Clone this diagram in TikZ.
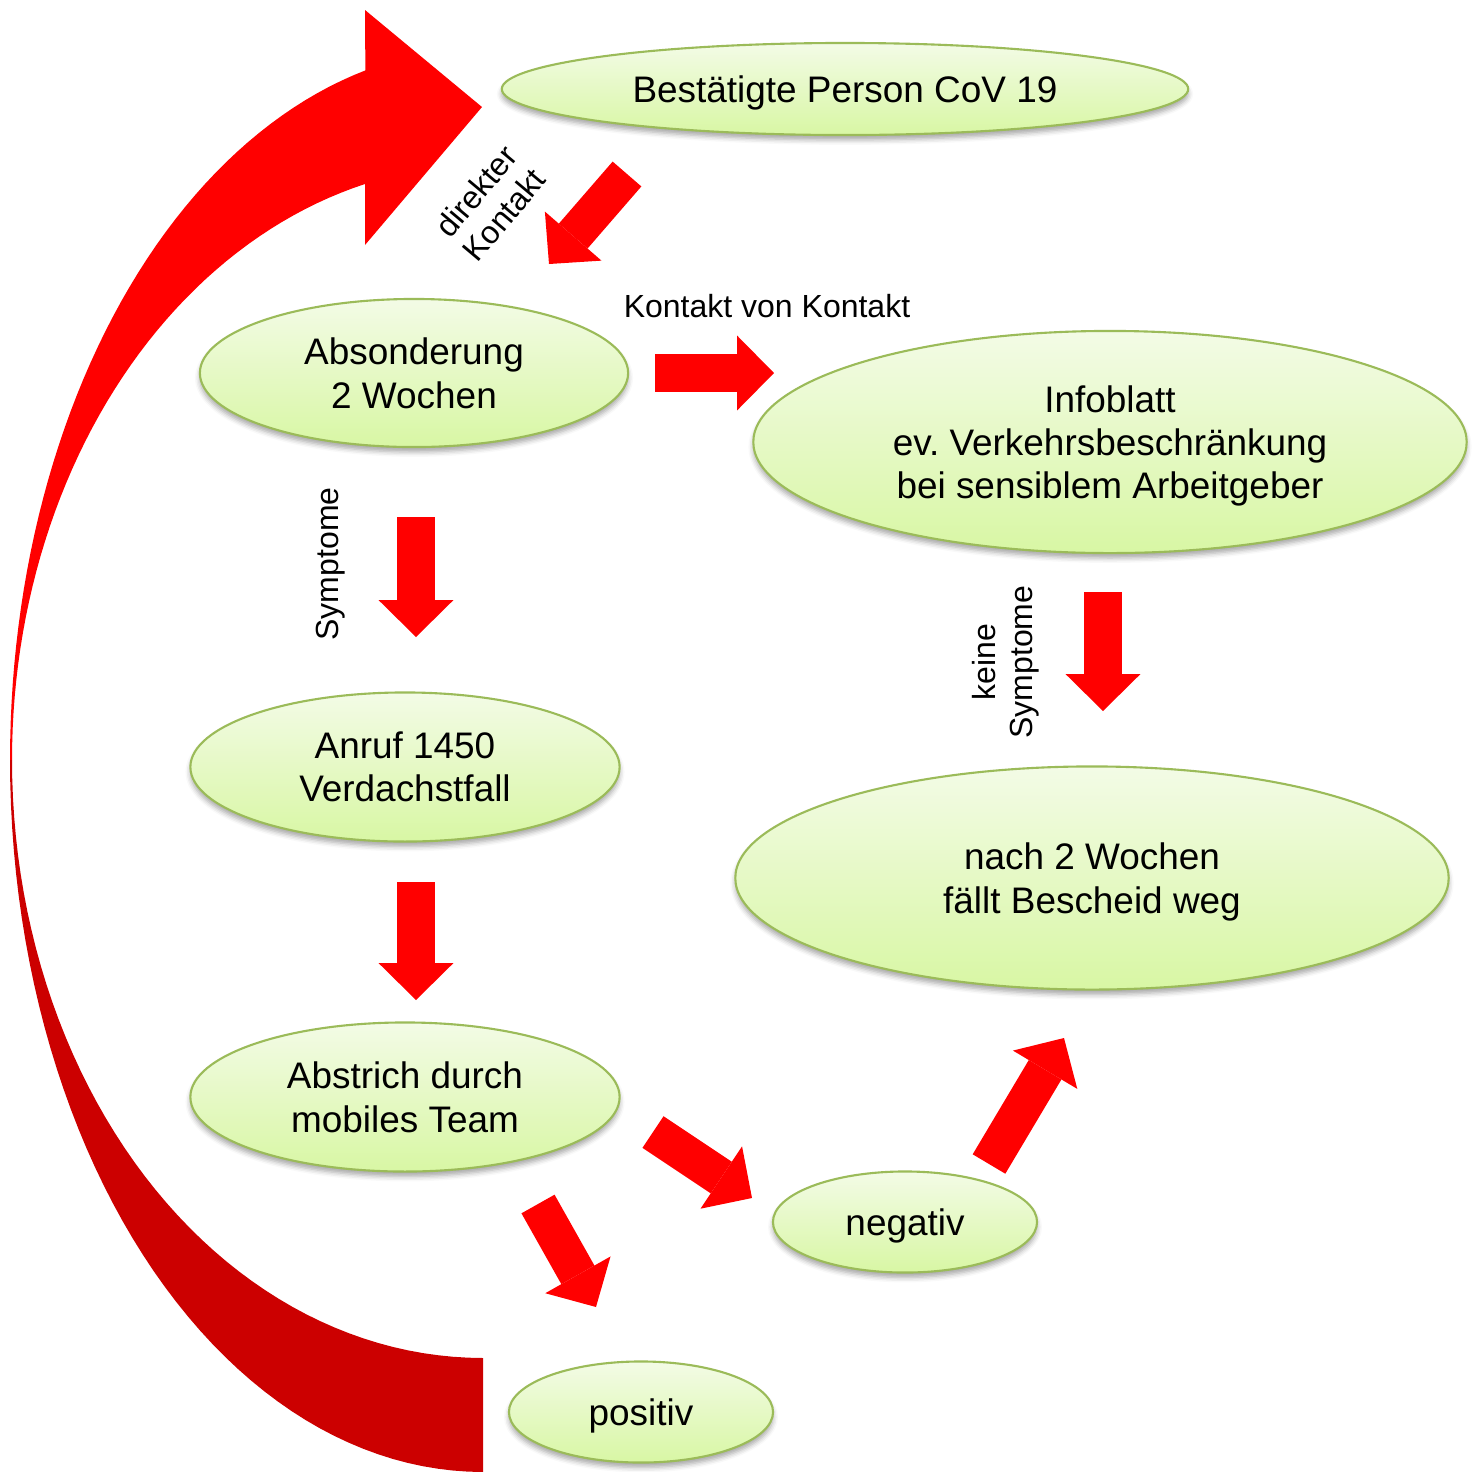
\documentclass[tikz,border=0pt]{standalone}
\usepackage{fontspec}
\setmainfont{Liberation Sans}
\usetikzlibrary{shapes.geometric,arrows.meta,shadows.blur}
\frenchspacing
\definecolor{bubbletop}{HTML}{F3FBE6}
\definecolor{bubblebottom}{HTML}{D8F7A4}
\definecolor{bubbleline}{HTML}{9BBB59}
\definecolor{arrowred}{HTML}{FF0000}
\definecolor{backred}{HTML}{CC0000}
\tikzset{
  bubble/.style={ellipse, draw=bubbleline, line width=0.6pt,
    top color=bubbletop, bottom color=bubblebottom, inner sep=0pt,
    align=center, text depth=0pt, font=\fontsize{10.5}{12.3}\selectfont,
    blur shadow={shadow xshift=0pt, shadow yshift=-1.4pt,
      shadow blur radius=1.4pt, shadow opacity=35}},
  fatarrow/.style={draw=arrowred, line width=10.8pt,
    -{Triangle[length=10.5pt, width=21.3pt, line width=0pt]}},
  lbl/.style={font=\fontsize{9.1}{10.4}\selectfont, align=center, inner sep=0pt}
}
\begin{document}
\begin{tikzpicture}[x=0.01cm, y=-0.01cm]
  \useasboundingbox (0,0) rectangle (1478,1472);
  \fill[arrowred]
    plot[domain=180:255.6, samples=50] ({483+473*cos(\x)},{760+712*sin(\x)})
    -- (365,10) -- (482,107) -- (365,245)
    -- plot[domain=255.5:180, samples=50] ({483+471*cos(\x)},{760+595*sin(\x)})
    -- cycle;
  \fill[backred]
    plot[domain=180:90, samples=50] ({483+473*cos(\x)},{760+712*sin(\x)})
    -- plot[domain=90:180, samples=50] ({483+471*cos(\x)},{760+598*sin(\x)})
    -- cycle;

  \node[bubble, minimum width=6.86cm, minimum height=0.92cm] (bestaetigt) at (845,89) {Bestätigte Person CoV 19};
  \node[bubble, minimum width=4.28cm, minimum height=1.48cm] (absonderung) at (414,373) {Absonderung\\2 Wochen};
  \node[bubble, minimum width=7.13cm, minimum height=2.22cm] (infoblatt) at (1110,442) {Infoblatt\\ev. Verkehrsbeschränkung\\bei sensiblem Arbeitgeber};
  \node[bubble, minimum width=4.29cm, minimum height=1.49cm] (anruf) at (405,767) {Anruf 1450\\Verdachstfall};
  \node[bubble, minimum width=7.13cm, minimum height=2.23cm] (nachzwei) at (1092,878) {nach 2 Wochen\\fällt Bescheid weg};
  \node[bubble, minimum width=4.29cm, minimum height=1.49cm] (abstrich) at (405,1097) {Abstrich durch\\mobiles Team};
  \node[bubble, minimum width=2.64cm, minimum height=1.01cm] (negativ) at (905,1222) {negativ};
  \node[bubble, minimum width=2.64cm, minimum height=1.01cm] (positiv) at (641,1412) {positiv};

  \node[lbl, rotate=50] (direkt) at (490,203) {direkter\\Kontakt};
  \node[lbl, anchor=base] (kvk) at (767,317) {Kontakt von Kontakt};
  \node[lbl, rotate=90] (sympt) at (331,564) {Symptome};
  \node[lbl, rotate=90] (keine) at (1006,662) {keine\\Symptome};

  \coordinate (d1) at (627,174);  \coordinate (d2) at (549,264);
  \coordinate (k1) at (655,373);  \coordinate (k2) at (774,373);
  \coordinate (s1) at (416,517);  \coordinate (s2) at (416,637);
  \coordinate (a1) at (416,882);  \coordinate (a2) at (416,1000);
  \coordinate (n1) at (1103,592); \coordinate (n2) at (1103,711);
  \coordinate (m1) at (653,1132); \coordinate (m2) at (752,1198);
  \coordinate (p1) at (538,1204); \coordinate (p2) at (596,1307);
  \coordinate (w1) at (989,1164); \coordinate (w2) at (1064,1038);
  \begin{scope}[fatarrow]
    \draw (d1) -- (d2);
    \draw (k1) -- (k2);
    \draw (s1) -- (s2);
    \draw (a1) -- (a2);
    \draw (n1) -- (n2);
    \draw (m1) -- (m2);
    \draw (p1) -- (p2);
    \draw (w1) -- (w2);
  \end{scope}
\end{tikzpicture}
\end{document}
